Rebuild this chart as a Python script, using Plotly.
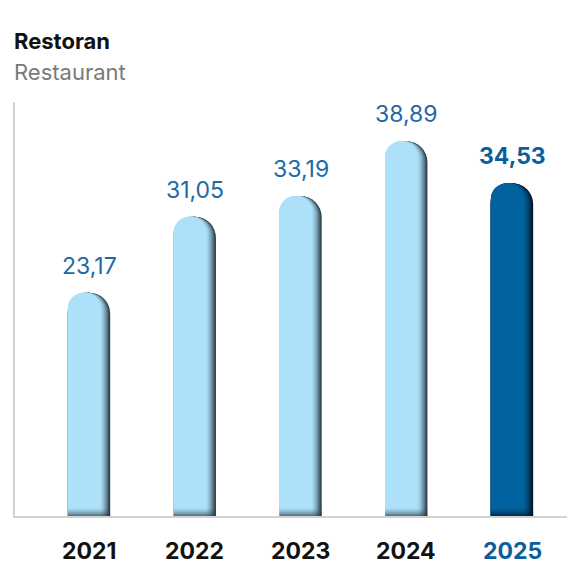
import plotly.graph_objects as go

# ---- data -------------------------------------------------------------
years = ["2021", "2022", "2023", "2024", "2025"]
values = [23.17, 31.05, 33.19, 38.89, 34.53]
value_labels = ["23,17", "31,05", "33,19", "38,89", "34,53"]
highlight = [False, False, False, False, True]

title_text = "Restoran"
subtitle_text = "Restaurant"

# ---- styling ------------------------------------------------------------
FONT = "Inter"
LIGHT = (173, 224, 249)
LIGHT_EDGE = (40, 58, 68)
DARK = (0, 98, 158)
DARK_EDGE = (3, 20, 36)
LABEL_BLUE = "#2068a6"
ACCENT_BLUE = "#0b5e9c"
AXIS_GREY = "#d2d2d2"

BAR_W = 0.40          # bar width in category units
PX = 1 / 105.75       # one screen pixel in category units
N_LAYERS = 11         # layers used for the shaded right edge


def mix(a, b, t):
    return "rgb(%d,%d,%d)" % tuple(round(a[i] + (b[i] - a[i]) * t) for i in range(3))


pos = list(range(len(years)))

fig = go.Figure()

# Shaded bars: stacked overlay layers, each one pixel narrower and left-aligned,
# so the right edge fades from the dark edge tone into the bar colour.
for k in range(N_LAYERS):
    t = (1 - k / (N_LAYERS - 1)) ** 1.6
    colors = [mix(DARK, DARK_EDGE, t) if h else mix(LIGHT, LIGHT_EDGE, t) for h in highlight]
    w = BAR_W - k * PX
    fig.add_trace(go.Bar(
        x=pos, y=values,
        width=[w] * len(pos),
        offset=[-BAR_W / 2] * len(pos),
        marker=dict(color=colors, line=dict(width=0), cornerradius="50%"),
        hoverinfo="skip", showlegend=False,
    ))

# Dark fade at the foot of each bar
shapes = []
for p, h in zip(pos, highlight):
    edge = DARK_EDGE if h else LIGHT_EDGE
    for i in range(10):
        op = 0.9 * (1 - i / 10) ** 1.5
        shapes.append(dict(
            type="rect", xref="x", yref="y", ysizemode="pixel", yanchor=0,
            x0=p - BAR_W / 2, x1=p + BAR_W / 2, y0=i - 2, y1=i - 1,
            fillcolor="rgb(%d,%d,%d)" % edge, opacity=op, line=dict(width=0),
            layer="above",
        ))

annotations = []
# value labels above the bars
for p, v, lab, h in zip(pos, values, value_labels, highlight):
    annotations.append(dict(
        x=p, y=v, xref="x", yref="y", text=lab, showarrow=False,
        yanchor="bottom", yshift=11,
        font=dict(family=FONT, size=23, color=ACCENT_BLUE if h else LABEL_BLUE,
                  weight=700 if h else 400),
    ))
# year labels under the axis
for p, yr, h in zip(pos, years, highlight):
    annotations.append(dict(
        x=p, y=0, xref="x", yref="y", text=yr, showarrow=False,
        yanchor="middle", yshift=-35,
        font=dict(family=FONT, size=23, color=ACCENT_BLUE if h else "#111111", weight=700),
    ))
# heading
annotations.append(dict(
    x=0, y=1, xref="paper", yref="paper", text=title_text, showarrow=False,
    xanchor="left", yanchor="middle", yshift=61, xshift=-3,
    font=dict(family=FONT, size=22, color="#111111", weight=700),
))
annotations.append(dict(
    x=0, y=1, xref="paper", yref="paper", text=subtitle_text, showarrow=False,
    xanchor="left", yanchor="middle", yshift=30, xshift=-3,
    font=dict(family=FONT, size=22, color="#7a7a7a"),
))

fig.update_layout(
    width=567, height=565,
    margin=dict(l=15, r=0, t=102, b=49),
    paper_bgcolor="white", plot_bgcolor="white",
    barmode="overlay",
    showlegend=False,
    xaxis=dict(range=[-0.7, 4.52], showgrid=False, zeroline=False,
               showticklabels=False, ticks="", showline=True,
               linecolor=AXIS_GREY, linewidth=2, layer="below traces", fixedrange=True),
    yaxis=dict(range=[0, 42.95], showgrid=False, zeroline=False,
               showticklabels=False, ticks="", showline=True,
               linecolor=AXIS_GREY, linewidth=2, layer="below traces", fixedrange=True),
    shapes=shapes,
    annotations=annotations,
)

fig.write_html("out.html")
